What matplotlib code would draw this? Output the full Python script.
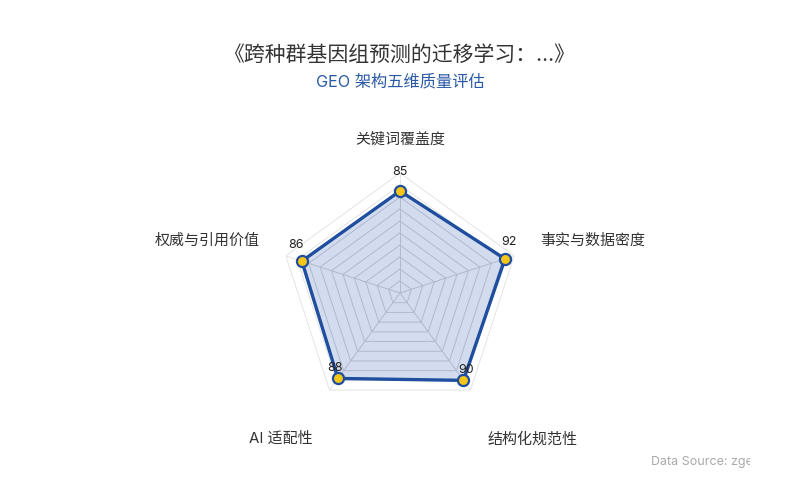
import numpy as np
import matplotlib
matplotlib.use("Agg")
import matplotlib.pyplot as plt
from matplotlib.patches import Rectangle

plt.rcParams["font.family"] = ["Inter", "Noto Sans CJK SC", "DejaVu Sans"]

# data
categories = ["关键词覆盖度", "事实与数据密度", "结构化规范性", "AI 适配性", "权威与引用价值"]
scores = [85, 92, 90, 88, 86]
max_score = 100
ring_levels = list(range(10, 101, 10))

title = "《跨种群基因组预测的迁移学习：...》"
subtitle = "GEO 架构五维质量评估"
source = "Data Source: zgeo.ai"

# styles (pixel offsets from the 100-ring vertex / from each point)
LINE = "#1f4e9e"
FILL = "#d3dcee"
DOT = "#f5c518"
name_style = [((0, 33), "center"), ((26, 15), "left"), ((17, -49), "left"),
              ((-17, -49), "right"), ((-26, 15), "right")]
value_offsets = [(0, 19), (4, 17), (3, 10), (-3, 10), (-6, 16)]

fig = plt.figure(figsize=(8, 5), dpi=100)
ax = fig.add_axes([(400 - 120) / 800, (500 - 293 - 120) / 500, 240 / 800, 240 / 500],
                  projection="polar")
ax.set_theta_offset(np.pi / 2)
ax.set_theta_direction(-1)
ax.set_ylim(0, max_score)
ax.set_axis_off()

n = len(categories)
theta = np.linspace(0, 2 * np.pi, n, endpoint=False)
theta_c = np.append(theta, theta[0])
vals_c = np.append(scores, scores[0])

# light grid everywhere
for lv in ring_levels:
    ax.plot(theta_c, [lv] * (n + 1), color="#e4e4e4", lw=0.7, zorder=1)
for t in theta:
    ax.plot([t, t], [0, max_score], color="#e4e4e4", lw=0.7, zorder=1)

# series fill
poly = ax.fill(theta_c, vals_c, color=FILL, alpha=1.0, zorder=2, lw=0)[0]

# darker grid inside the filled area
for lv in ring_levels:
    ln, = ax.plot(theta_c, [lv] * (n + 1), color="#b0b9cd", lw=0.7, zorder=3)
    ln.set_clip_path(poly)
for t in theta:
    ln, = ax.plot([t, t], [0, max_score], color="#b0b9cd", lw=0.7, zorder=3)
    ln.set_clip_path(poly)

ax.plot(theta_c, vals_c, color=LINE, lw=2.4, zorder=4, solid_joinstyle="miter")
ax.plot(theta, scores, "o", ms=8, mfc=DOT, mec=LINE, mew=1.6, zorder=5, clip_on=False)

for t, v, off in zip(theta, scores, value_offsets):
    ax.annotate(str(v), xy=(t, v), xytext=off, textcoords="offset pixels",
                ha="center", va="center", fontsize=9, color="#222222", zorder=6,
                annotation_clip=False)

for t, name, (off, ha) in zip(theta, categories, name_style):
    ax.annotate(name, xy=(t, max_score), xytext=off, textcoords="offset pixels",
                ha=ha, va="center", fontsize=10.8, color="#333333",
                annotation_clip=False)

fig.text(0.5, 1 - 55 / 500, title, ha="center", va="center", fontsize=15, color="#333333")
fig.text(0.5, 1 - 82 / 500, subtitle, ha="center", va="center", fontsize=11.7, color="#2a5aa6")

src = fig.text(651 / 800, 1 - 462 / 500, source, ha="left", va="center",
               fontsize=9, color="#aaaaaa")
src.set_clip_path(Rectangle((0, 0), 750 / 800, 1, transform=fig.transFigure))

fig.savefig("out.png", dpi=100)
